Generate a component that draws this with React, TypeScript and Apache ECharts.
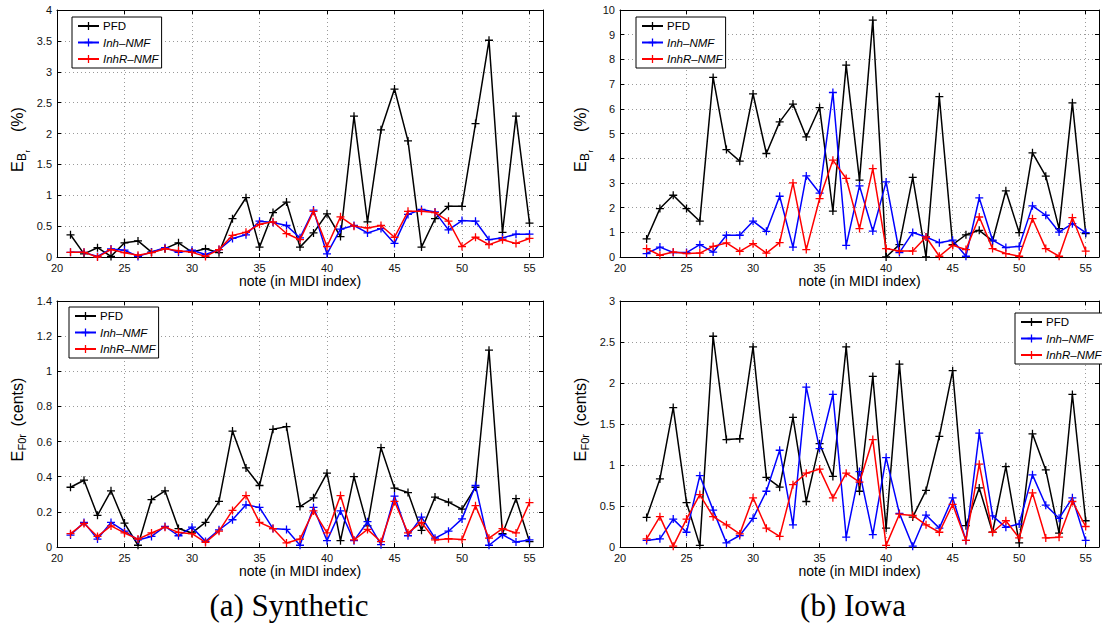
import React, { useEffect, useRef } from 'react';
import * as echarts from 'echarts';

// ---------- data ----------
const notesA = [21, 22, 23, 24, 25, 26, 27, 28, 29, 30, 31, 32, 33, 34, 35, 36, 37, 38, 39, 40, 41, 42, 43, 44, 45, 46, 47, 48, 49, 50, 51, 52, 53, 54, 55];
const notesB = [22, 23, 24, 25, 26, 27, 28, 29, 30, 31, 32, 33, 34, 35, 36, 37, 38, 39, 40, 41, 42, 43, 44, 45, 46, 47, 48, 49, 50, 51, 52, 53, 54, 55];

const synBrPFD = [0.36, 0.05, 0.15, 0.01, 0.23, 0.26, 0.08, 0.135, 0.23, 0.08, 0.135, 0.07, 0.62, 0.96, 0.16, 0.72, 0.89, 0.16, 0.39, 0.70, 0.33, 2.28, 0.57, 2.06, 2.72, 1.88, 0.16, 0.62, 0.82, 0.82, 2.16, 3.51, 0.40, 2.28, 0.55];
const synBrInh = [0.075, 0.075, 0.01, 0.13, 0.11, 0.01, 0.08, 0.15, 0.075, 0.11, 0.04, 0.12, 0.30, 0.36, 0.58, 0.56, 0.51, 0.31, 0.76, 0.05, 0.45, 0.51, 0.39, 0.46, 0.22, 0.69, 0.77, 0.73, 0.44, 0.59, 0.58, 0.28, 0.31, 0.37, 0.37];
const synBrInhR = [0.075, 0.075, 0.0, 0.12, 0.07, 0.03, 0.07, 0.135, 0.10, 0.075, 0.01, 0.12, 0.35, 0.40, 0.53, 0.57, 0.38, 0.28, 0.74, 0.17, 0.65, 0.50, 0.47, 0.51, 0.32, 0.74, 0.74, 0.72, 0.58, 0.17, 0.32, 0.20, 0.28, 0.22, 0.30];

const synF0PFD = [0.34, 0.38, 0.18, 0.32, 0.136, 0.01, 0.27, 0.32, 0.105, 0.08, 0.14, 0.26, 0.66, 0.45, 0.35, 0.67, 0.685, 0.23, 0.28, 0.42, 0.036, 0.40, 0.12, 0.565, 0.335, 0.31, 0.095, 0.284, 0.255, 0.215, 0.34, 1.12, 0.076, 0.275, 0.03];
const synF0Inh = [0.068, 0.14, 0.045, 0.14, 0.09, 0.04, 0.06, 0.117, 0.064, 0.113, 0.032, 0.098, 0.155, 0.24, 0.225, 0.105, 0.1, 0.01, 0.225, 0.036, 0.205, 0.036, 0.144, 0.013, 0.29, 0.064, 0.17, 0.05, 0.09, 0.16, 0.35, 0.01, 0.07, 0.028, 0.04];
const synF0InhR = [0.076, 0.134, 0.06, 0.12, 0.08, 0.045, 0.08, 0.113, 0.083, 0.076, 0.026, 0.09, 0.208, 0.293, 0.14, 0.105, 0.023, 0.045, 0.205, 0.08, 0.293, 0.04, 0.10, 0.03, 0.26, 0.08, 0.14, 0.04, 0.047, 0.042, 0.235, 0.05, 0.105, 0.08, 0.253];

const iowaBrPFD = [0.73, 1.96, 2.5, 1.96, 1.45, 7.27, 4.35, 3.88, 6.6, 4.19, 5.47, 6.19, 4.86, 6.05, 1.86, 7.77, 3.11, 9.59, 0.0, 0.5, 3.22, 0.0, 6.49, 0.5, 0.9, 1.08, 0.65, 2.68, 0.99, 4.22, 3.27, 1.15, 6.24, 0.95];
const iowaBrInh = [0.14, 0.4, 0.18, 0.18, 0.5, 0.2, 0.88, 0.88, 1.45, 1.04, 2.46, 0.4, 3.28, 2.59, 6.66, 0.47, 2.88, 1.05, 3.04, 0.18, 0.99, 0.81, 0.58, 0.68, 0.03, 2.39, 0.68, 0.38, 0.43, 2.07, 1.69, 1.01, 1.35, 0.99];
const iowaBrInhR = [0.34, 0.07, 0.2, 0.14, 0.16, 0.43, 0.57, 0.23, 0.54, 0.16, 0.58, 3.0, 0.3, 2.36, 3.92, 3.18, 1.15, 3.58, 0.34, 0.24, 0.24, 0.81, 0.03, 0.47, 0.3, 1.62, 0.34, 0.14, 0.03, 1.55, 0.34, 0.03, 1.59, 0.24];

const iowaF0PFD = [0.36, 0.83, 1.70, 0.54, 0.02, 2.57, 1.31, 1.32, 2.44, 0.85, 0.73, 1.58, 0.555, 1.26, 0.86, 2.44, 0.68, 2.08, 0.23, 2.23, 0.365, 0.69, 1.35, 2.15, 0.26, 0.72, 0.18, 0.98, 0.05, 1.38, 0.94, 0.17, 1.86, 0.32];
const iowaF0Inh = [0.08, 0.1, 0.34, 0.18, 0.87, 0.45, 0.05, 0.14, 0.35, 0.68, 1.18, 0.27, 1.95, 1.2, 1.86, 0.12, 0.92, 0.15, 1.09, 0.41, 0.01, 0.39, 0.23, 0.6, 0.08, 1.39, 0.38, 0.24, 0.28, 0.88, 0.51, 0.35, 0.60, 0.08];
const iowaF0InhR = [0.1, 0.37, 0.01, 0.34, 0.64, 0.37, 0.27, 0.16, 0.6, 0.23, 0.13, 0.76, 0.9, 0.95, 0.6, 0.9, 0.79, 1.31, 0.02, 0.4, 0.385, 0.27, 0.18, 0.52, 0.08, 1.01, 0.18, 0.32, 0.11, 0.66, 0.11, 0.12, 0.555, 0.25];

const seriesNames = ['PFD', 'Inh–NMF', 'InhR–NMF'];
const seriesColors = ['#000000', '#0000ff', '#ff0000'];
const xAxisTitle = 'note (in MIDI index)';
const captions = ['(a) Synthetic', '(b) Iowa'];

// ---------- layout ----------
const FONT = '"Liberation Sans", Arial, Helvetica, sans-serif';
const SERIF = '"Liberation Serif", "DejaVu Serif", serif';
const PLUS = 'path://M4.2,0H5.8V4.2H10V5.8H5.8V10H4.2V5.8H0V4.2H4.2Z';

const panels = [
  { left: 57, top: 10, width: 486, height: 247, yMax: 4, yInt: 0.5, notes: notesA, values: [synBrPFD, synBrInh, synBrInhR], legend: { left: 72, top: 17 }, nameGap: 11, title: 'Br', titleX: 17, titleY: 139 },
  { left: 57, top: 301, width: 486, height: 246, yMax: 1.4, yInt: 0.2, notes: notesA, values: [synF0PFD, synF0Inh, synF0InhR], legend: { left: 69, top: 307 }, nameGap: 12, title: 'F0', titleX: 17, titleY: 419 },
  { left: 620, top: 10, width: 486, height: 247, yMax: 10, yInt: 1, notes: notesB, values: [iowaBrPFD, iowaBrInh, iowaBrInhR], legend: { left: 636, top: 17 }, nameGap: 11, title: 'Br', titleX: 580, titleY: 139 },
  { left: 620, top: 301, width: 486, height: 246, yMax: 3, yInt: 0.5, notes: notesB, values: [iowaF0PFD, iowaF0Inh, iowaF0InhR], legend: { left: 1015, top: 313 }, nameGap: 12, title: 'F0', titleX: 580, titleY: 419 },
];

function yTitle(cx: number, cy: number, kind: string) {
  // rotated group, reading bottom-to-top; local +y -> screen right
  const t = (text: string, x: number, y: number, size: number) => ({
    type: 'text',
    x,
    y,
    style: { text, font: `${size}px ${FONT}`, fill: '#000', align: 'left', verticalAlign: 'middle' },
  });
  let children: any[];
  let len: number;
  if (kind === 'Br') {
    children = [t('E', 0, 0, 16), t('B', 11, 5, 12), t('r', 19.5, 10, 8), t('(%)', 40, 0, 16)];
    len = 66;
  } else {
    children = [t('E', 0, 0, 16), t('F0r', 11, 5, 11), t('(cents)', 35, 0, 16)];
    len = 85;
  }
  return {
    type: 'group',
    x: cx,
    y: cy + len / 2,
    rotation: Math.PI / 2,
    children,
  };
}

function buildOption() {
  const grid: any[] = [];
  const xAxis: any[] = [];
  const yAxis: any[] = [];
  const series: any[] = [];
  const legend: any[] = [];
  const graphic: any[] = [];
  const grey = { color: '#9a9a9a', type: [1, 3], width: 1 };

  panels.forEach((p, i) => {
    grid.push({ left: p.left, top: p.top, width: p.width, height: p.height, show: false });
    xAxis.push({
      type: 'value', gridIndex: i, min: 20, max: 56, interval: 5, position: 'bottom',
      axisLine: { show: true, onZero: false, lineStyle: { color: '#000', width: 1 } },
      axisTick: { show: true, inside: true, length: 4, lineStyle: { color: '#000' } },
      axisLabel: { color: '#111', fontSize: 11, fontFamily: FONT, margin: 5, formatter: (v: number) => (v % 5 === 0 ? String(v) : '') },
      splitLine: { show: true, lineStyle: grey },
      name: xAxisTitle, nameLocation: 'middle', nameGap: p.nameGap,
      nameTextStyle: { fontSize: 14, color: '#000', fontFamily: FONT, verticalAlign: 'top' },
    });
    xAxis.push({
      type: 'value', gridIndex: i, min: 20, max: 56, interval: 5, position: 'top',
      axisLine: { show: true, onZero: false, lineStyle: { color: '#000', width: 1 } },
      axisTick: { show: true, inside: true, length: 4, lineStyle: { color: '#000' } },
      axisLabel: { show: false }, splitLine: { show: false },
    });
    yAxis.push({
      type: 'value', gridIndex: i, min: 0, max: p.yMax, interval: p.yInt, position: 'left',
      axisLine: { show: true, onZero: false, lineStyle: { color: '#000', width: 1 } },
      axisTick: { show: true, inside: true, length: 4, lineStyle: { color: '#000' } },
      axisLabel: { color: '#111', fontSize: 11, fontFamily: FONT, margin: 5 },
      splitLine: { show: true, lineStyle: grey },
    });
    yAxis.push({
      type: 'value', gridIndex: i, min: 0, max: p.yMax, interval: p.yInt, position: 'right',
      axisLine: { show: true, onZero: false, lineStyle: { color: '#000', width: 1 } },
      axisTick: { show: true, inside: true, length: 4, lineStyle: { color: '#000' } },
      axisLabel: { show: false }, splitLine: { show: false },
    });
    p.values.forEach((vals, k) => {
      series.push({
        type: 'line', name: seriesNames[k], xAxisIndex: 2 * i, yAxisIndex: 2 * i,
        data: vals.map((v, j) => [p.notes[j], v]),
        symbol: PLUS, symbolSize: 8, showAllSymbol: true,
        lineStyle: { color: seriesColors[k], width: 1.5 },
        itemStyle: { color: seriesColors[k] },
        z: 2 + k,
      });
    });
    legend.push({
      show: true, orient: 'vertical', left: p.legend.left, top: p.legend.top,
      data: seriesNames, itemWidth: 21, itemHeight: 10, itemGap: 4.5,
      padding: [3, 3, 3, 5], borderColor: '#000', borderWidth: 1, borderRadius: 0,
      backgroundColor: '#fff', selectedMode: false,
      textStyle: { fontSize: 11.5, color: '#000', fontFamily: FONT, padding: [0, 0, 0, -1], rich: { i: { fontSize: 11.5, fontStyle: 'italic', color: '#000', fontFamily: FONT } } },
      formatter: (name: string) => (name === 'PFD' ? name : `{i|${name}}`),
    });
    graphic.push(yTitle(p.titleX, p.titleY, p.title));
  });

  graphic.push({ type: 'text', x: 289, y: 605, style: { text: captions[0], font: `31px ${SERIF}`, fill: '#000', align: 'center', verticalAlign: 'middle' } });
  graphic.push({ type: 'text', x: 853, y: 605, style: { text: captions[1], font: `31px ${SERIF}`, fill: '#000', align: 'center', verticalAlign: 'middle' } });

  return { animation: false, backgroundColor: '#fff', grid, xAxis, yAxis, series, legend, graphic };
}

export default function App() {
  const ref = useRef<HTMLDivElement>(null);
  useEffect(() => {
    if (!ref.current) return;
    const chart = echarts.init(ref.current, undefined, { renderer: 'svg' });
    chart.setOption(buildOption() as any);
    return () => chart.dispose();
  }, []);
  return <div ref={ref} style={{ position: 'fixed', left: 0, top: 0, width: 1102, height: 623, background: '#fff' }} />;
}
